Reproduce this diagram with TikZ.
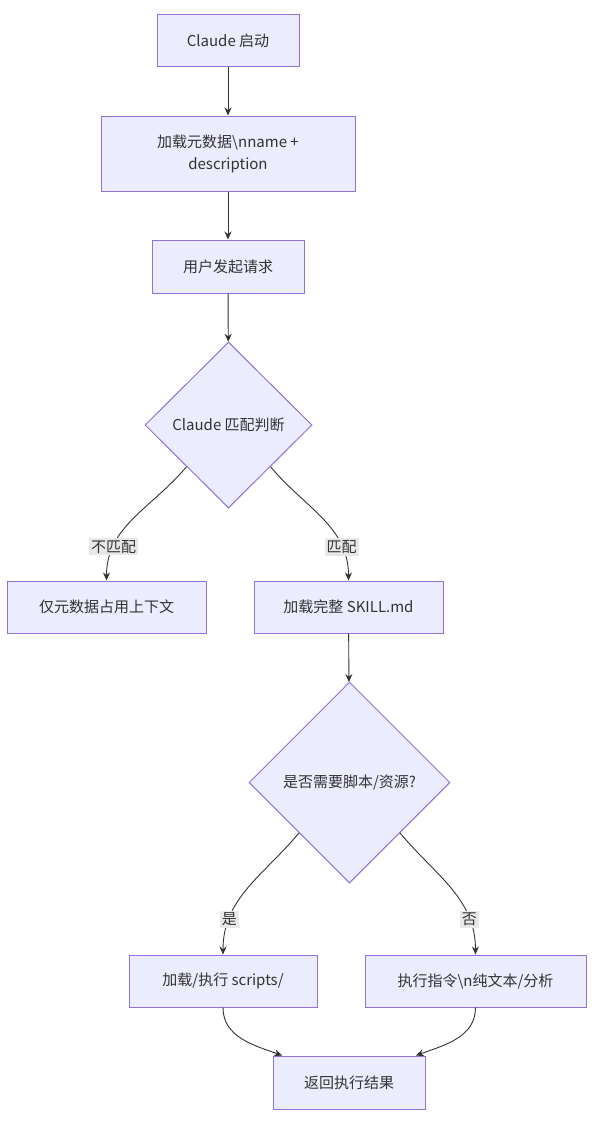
\documentclass[tikz,border=0pt]{standalone}
\usepackage{fontspec}
\setmainfont{Noto Sans CJK SC}
\usetikzlibrary{shapes.geometric,arrows.meta,calc}
\definecolor{boxfill}{HTML}{ECECFF}
\definecolor{boxline}{HTML}{9370DB}
\definecolor{edgeline}{HTML}{333333}
\definecolor{lblfill}{HTML}{E8E8E8}

\begin{document}
\begin{tikzpicture}[x=1pt,y=1pt,>={Stealth[length=8pt,width=7pt]},
  every node/.style={font=\fontsize{15}{22}\selectfont, text=edgeline},
  box/.style={draw=boxline, fill=boxfill, line width=1pt, minimum height=52pt, align=center},
  choice/.style={diamond, draw=boxline, fill=boxfill, line width=1pt, inner sep=0pt, align=center},
  flow/.style={draw=edgeline, line width=0.9pt},
  lbl/.style={fill=lblfill, inner sep=2pt}]
  \useasboundingbox (0,0) rectangle (594,-1124);
  % Nodes
  \node[box, minimum width=142pt] (start) at (228,-41) {Claude 启动};
  \node[box, minimum width=254pt, minimum height=75pt] (meta) at (228,-153.5) {加载元数据\textbackslash nname +\\description};
  \node[box, minimum width=152pt, minimum height=53pt] (req) at (228,-266.5) {用户发起请求};
  \node[choice, minimum width=167pt, minimum height=166pt] (match) at (228.5,-425) {Claude 匹配判断};
  \node[box, minimum width=199pt] (metaonly) at (106.5,-607) {仅元数据占用上下文};
  \node[box, minimum width=189pt] (full) at (348.5,-607) {加载完整 SKILL.md};
  \node[choice, minimum width=201pt, minimum height=201pt] (need) at (349.5,-782.5) {是否需要脚本/资源?};
  \node[box, minimum width=188pt] (scripts) at (223,-981) {加载/执行 scripts/};
  \node[box, minimum width=221pt] (plain) at (475.5,-981) {执行指令\textbackslash n纯文本/分析};
  \node[box, minimum width=152pt, minimum height=53pt] (result) at (349,-1082.5) {返回执行结果};
  % Edges
  \draw[flow,->] (start) -- (meta);
  \draw[flow,->] (meta) -- (req);
  \draw[flow,->] (req) -- (match);
  \draw[flow,->] (match.south west) to[out=-130,in=90] node[lbl,pos=0.76]{不匹配} (metaonly.north);
  \draw[flow,->] (match.south east) to[out=-50,in=90] node[lbl,pos=0.76]{匹配} (full.north);
  \draw[flow,->] (full) -- (need);
  \draw[flow,->] (need.south west) to[out=-130,in=90] node[lbl,pos=0.76]{是} (scripts.north);
  \draw[flow,->] (need.south east) to[out=-50,in=90] node[lbl,pos=0.76]{否} (plain.north);
  \draw[flow,->] (scripts.south) to[out=-90,in=160] (result.158);
  \draw[flow,->] (plain.south) to[out=-90,in=20] (result.22);
\end{tikzpicture}
\end{document}
